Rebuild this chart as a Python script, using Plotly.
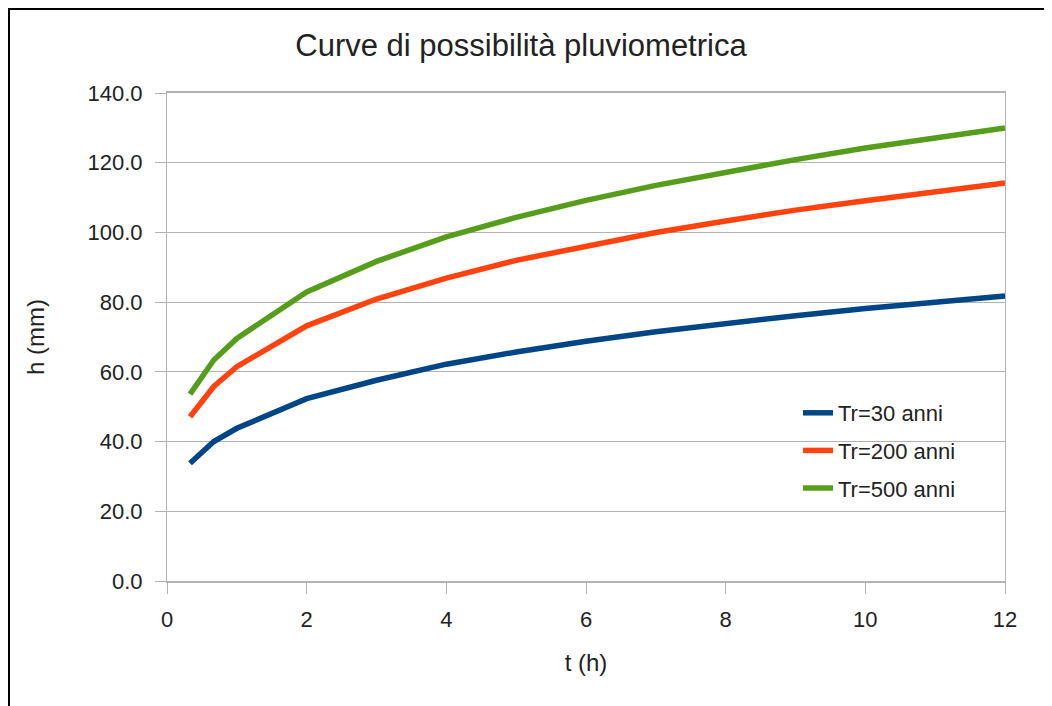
import plotly.graph_objects as go

t_hours = [0.33, 0.67, 1, 2, 3, 4, 5, 6, 7, 8, 9, 10, 11, 12]
h_tr30 = [33.8, 40.0, 43.8, 52.3, 57.6, 62.2, 65.7, 68.8, 71.5, 73.9, 76.1, 78.2, 80.1, 81.8]
h_tr200 = [47.1, 55.8, 61.5, 73.2, 80.9, 86.9, 92.0, 96.2, 100.0, 103.3, 106.4, 109.1, 111.7, 114.2]
h_tr500 = [53.6, 63.4, 69.6, 82.9, 91.7, 98.7, 104.3, 109.2, 113.5, 117.4, 120.9, 124.2, 127.2, 130.0]
series_names = ["Tr=30 anni", "Tr=200 anni", "Tr=500 anni"]
series_colors = ["#004586", "#ff420e", "#579d1c"]
y_ticks = [0, 20, 40, 60, 80, 100, 120, 140]
y_tick_labels = ["0.0", "20.0", "40.0", "60.0", "80.0", "100.0", "120.0", "140.0"]
x_ticks = [0, 2, 4, 6, 8, 10, 12]

FONT = "Liberation Sans, Arial, sans-serif"
TXT = "#222222"

fig = go.Figure()
for i, (name, vals, col) in enumerate(zip(series_names, [h_tr30, h_tr200, h_tr500], series_colors)):
    fig.add_trace(go.Scatter(x=t_hours, y=vals, mode="lines", name=name, legendgroup="g%d" % i,
                             line=dict(color=col, width=5.5)))

# page is shown with an 8px body margin, so the figure is offset by 8px
OFF = 8
W, H = 1052 - OFF, 706 - OFF
L, R, T, B = 167 - OFF, 47, 93 - OFF, 125
pw, ph = W - L - R, H - T - B

def px_x(p):  # page pixel -> paper x
    return (p - OFF - L) / pw

def px_y(p):  # page pixel -> paper y
    return (H - B - (p - OFF)) / ph

fig.update_layout(
    width=W, height=H,
    margin=dict(l=L, r=R, t=T, b=B),
    paper_bgcolor="white", plot_bgcolor="white",
    font=dict(family=FONT, color=TXT),
    title=dict(text="Curve di possibilità pluviometrica", x=(521 - OFF) / W, xanchor="center",
               y=1 - (45 - OFF) / H, yanchor="middle",
               font=dict(size=31, family=FONT, color=TXT)),
    showlegend=True,
    legend=dict(x=px_x(798), y=px_y(392), xanchor="left", yanchor="top",
                bgcolor="rgba(0,0,0,0)", font=dict(size=22, family=FONT, color=TXT),
                tracegroupgap=6, itemwidth=30),
    xaxis=dict(range=[0, 12], tickvals=x_ticks, showgrid=False,
               showline=True, linecolor="#b3b3b3", linewidth=2, mirror=True,
               ticks="outside", ticklen=11, tickcolor="#b3b3b3", zeroline=False,
               ticklabelstandoff=7,
               tickfont=dict(size=22, family=FONT, color=TXT),
               title=dict(text="t (h)", font=dict(size=24, family=FONT, color=TXT), standoff=23)),
    yaxis=dict(range=[0, 140], tickvals=y_ticks, ticktext=y_tick_labels,
               showgrid=True, gridcolor="#b3b3b3", gridwidth=1,
               showline=True, linecolor="#b3b3b3", linewidth=1, mirror=True,
               ticks="outside", ticklen=11, tickcolor="#b3b3b3", zeroline=False,
               ticklabelstandoff=8,
               tickfont=dict(size=22, family=FONT, color=TXT),
               title=dict(text="h (mm)", font=dict(size=24, family=FONT, color=TXT), standoff=36)),
    shapes=[
        dict(type="line", xref="paper", yref="paper", x0=px_x(9), x1=px_x(9), y0=px_y(8), y1=px_y(706),
             line=dict(color="black", width=2)),
        dict(type="line", xref="paper", yref="paper", x0=px_x(8), x1=px_x(1052), y0=px_y(9), y1=px_y(9),
             line=dict(color="black", width=2)),
    ],
)

fig.write_html("out.html")
